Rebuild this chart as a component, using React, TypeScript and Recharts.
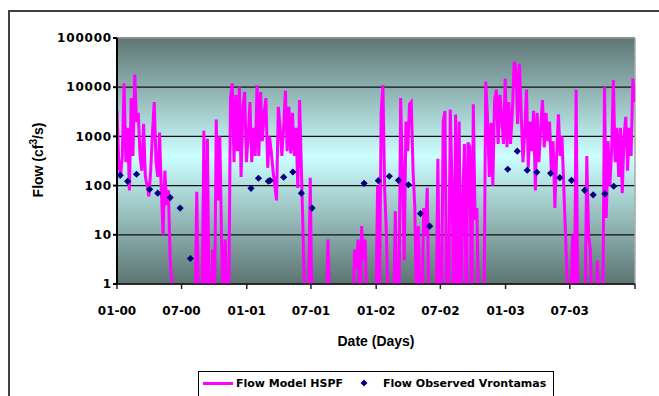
import {
  ComposedChart,
  Line,
  Scatter,
  XAxis,
  YAxis,
  CartesianGrid,
  ReferenceLine,
} from "recharts";

// modelled daily flow, sampled every 5 days from START (cf3/s); 0.2 = below the axis (clipped)
const START = "2000-01-01";
const STEP_DAYS = 5;
const modelFlow = [
  3500, 300, 150, 400, 12000, 300, 1500, 80, 6000, 400,
  18000, 2000, 3000, 400, 200, 1800, 150, 100, 60, 200,
  1200, 5000, 300, 150, 1200, 80, 10, 200, 40, 80,
  3, 1, 0.2, 0.2, 0.2, 0.2, 0.2, 0.2, 0.2, 0.2,
  0.2, 0.2, 0.2, 0.2, 0.2, 75, 0.2, 0.2, 0.2, 1300,
  0.2, 900, 0.2, 0.2, 5, 0.2, 2200, 50, 1000, 8,
  0.2, 8, 0.2, 0.2, 6000, 12000, 300, 7000, 500, 10000,
  150, 4000, 8000, 300, 1000, 5000, 300, 1500, 400, 11000,
  400, 8000, 800, 3000, 6000, 230, 1000, 500, 200, 100,
  50, 4000, 1500, 400, 1500, 8500, 500, 4000, 450, 3000,
  400, 1500, 90, 5500, 230, 10, 0.2, 0.2, 0.2, 145,
  0.2, 0.2, 0.2, 0.2, 0.2, 0.2, 0.2, 0.2, 0.2, 8,
  0.2, 0.2, 0.2, 0.2, 0.2, 0.2, 0.2, 0.2, 0.2, 0.2,
  0.2, 0.2, 0.2, 0.2, 5, 2, 8, 0.2, 15, 3,
  8, 0.2, 0.2, 0.2, 0.2, 0.2, 0.2, 100, 0.2, 3000,
  11000, 80, 10, 0.2, 0.2, 0.2, 0.2, 30, 0.2, 0.2,
  6000, 200, 3, 2000, 500, 4500, 5000, 200, 35, 0.2,
  15, 0.2, 0.2, 35, 10, 90, 0.2, 0.2, 0.2, 0.2,
  0.2, 350, 0.2, 0.2, 2000, 3300, 0.2, 0.2, 3500, 100,
  0.2, 2800, 0.2, 2000, 0.2, 50, 700, 0.2, 750, 600,
  0.2, 4500, 20, 35, 0.2, 0.2, 0.2, 0.2, 13000, 2500,
  150, 1900, 100, 5500, 9000, 700, 7000, 2500, 700, 15000,
  600, 5000, 700, 3000, 33000, 25000, 1800, 30000, 3000, 300,
  1200, 9000, 230, 2000, 500, 3300, 80, 3000, 300, 1500,
  5500, 600, 3000, 800, 2000, 200, 800, 35, 400, 2800,
  400, 1000, 100, 10, 1, 0.2, 0.2, 10, 0.2, 9000,
  0.2, 0.2, 0.2, 0.2, 0.2, 400, 10, 5, 0.2, 0.2,
  0.2, 3, 0.2, 0.2, 0.2, 10000, 22, 800, 100, 500,
  14000, 300, 1500, 150, 1500, 70, 1000, 2500, 200, 1500,
  400, 15000, 5000,
];

// observed flow at Vrontamas
const obsDates = [
  "2000-01-10", "2000-01-31", "2000-02-25", "2000-04-02", "2000-04-25",
  "2000-05-30", "2000-06-27", "2000-07-26", "2001-01-13", "2001-02-03",
  "2001-03-03", "2001-03-08", "2001-04-15", "2001-05-11", "2001-06-04",
  "2001-07-04", "2001-11-28", "2002-01-07", "2002-02-07", "2002-03-05",
  "2002-04-02", "2002-05-06", "2002-06-01", "2003-01-07", "2003-02-03",
  "2003-03-03", "2003-03-30", "2003-05-08", "2003-06-03", "2003-07-06",
  "2003-08-12", "2003-09-05", "2003-10-08", "2003-11-02",
];
const obsFlow = [
  162, 122, 170, 84, 70,
  57, 35, 3.3, 88, 141,
  123, 127, 148, 189, 70,
  35, 111, 126, 155, 128,
  104, 27, 15, 215, 500,
  205, 187, 178, 145, 128,
  80, 65, 68, 97,
];

const tickDates = [
  "2000-01-01", "2000-07-01", "2001-01-01", "2001-07-01", "2002-01-01",
  "2002-07-01", "2003-01-01", "2003-07-01", "2004-01-01",
];
const tickLabels = ["01-00", "07-00", "01-01", "07-01", "01-02", "07-02", "01-03", "07-03", ""];
const yTicks = [1, 10, 100, 1000, 10000, 100000];

const dayOf = (d: string) => (Date.parse(d) - Date.parse(START)) / 86400000;

const modelData = modelFlow.map((v, i) => ({ day: i * STEP_DAYS, flow: v }));
const obsData = obsDates.map((d, i) => ({ day: dayOf(d), obs: obsFlow[i] }));
const xTicks = tickDates.map(dayOf);
const xMax = xTicks[xTicks.length - 1];

const Diamond = (props: any) => {
  const { cx, cy } = props;
  const r = 3.6;
  return (
    <polygon
      points={`${cx},${cy - r} ${cx + r},${cy} ${cx},${cy + r} ${cx - r},${cy}`}
      fill="#000080"
    />
  );
};

const tickStyle = {
  fill: "#000",
  fontSize: 12,
  fontWeight: "bold" as const,
  fontFamily: "DejaVu Sans, Verdana, sans-serif",
};

export default function App() {
  return (
    <div
      style={{
        position: "fixed",
        left: 0,
        top: 0,
        width: 659,
        height: 396,
        overflow: "hidden",
        background: "#fff",
      }}
    >
      <div
        style={{
          position: "absolute",
          left: 8,
          top: 10,
          width: 700,
          height: 450,
          border: "2px solid #404040",
        }}
      />
      <div style={{ position: "absolute", left: 0, top: 0 }}>
        <ComposedChart
          width={659}
          height={396}
          margin={{ top: 38, right: 24, bottom: 82, left: 0 }}
        >
          <defs>
            <linearGradient id="plotBg" x1="0" y1="0" x2="0" y2="1">
              <stop offset="0%" stopColor="#5e7674" />
              <stop offset="48%" stopColor="#ccffff" />
              <stop offset="100%" stopColor="#5c7472" />
            </linearGradient>
          </defs>
          <CartesianGrid
            vertical={false}
            fill="url(#plotBg)"
            stroke="#111"
            strokeWidth={1.3}
          />
          <XAxis
            dataKey="day"
            type="number"
            domain={[0, xMax]}
            ticks={xTicks}
            tickFormatter={(v: number) => tickLabels[xTicks.indexOf(v)] ?? ""}
            height={30}
            tickSize={5}
            tickMargin={17}
            stroke="#222"
            strokeWidth={1.5}
            tick={tickStyle}
            allowDataOverflow
          />
          <YAxis
            type="number"
            scale="log"
            domain={[1, 100000]}
            ticks={yTicks}
            allowDataOverflow
            width={117}
            tickSize={4}
            tickMargin={1}
            stroke="#000"
            strokeWidth={2}
            tick={{ ...tickStyle, letterSpacing: 0.8 }}
          />
          <ReferenceLine y={100000} stroke="#a8a8a8" strokeWidth={1.5} />
          <ReferenceLine x={xMax} stroke="#a8a8a8" strokeWidth={1.5} />
          <Line
            data={modelData}
            dataKey="flow"
            type="linear"
            stroke="#ff00ff"
            strokeWidth={3}
            dot={false}
            activeDot={false}
            isAnimationActive={false}
          />
          <Scatter
            data={obsData}
            dataKey="obs"
            shape={Diamond}
            fill="#000080"
            isAnimationActive={false}
          />
        </ComposedChart>
      </div>

      {/* axis titles */}
      <div
        style={{
          position: "absolute",
          left: 37,
          top: 160,
          transform: "translate(-50%, -50%) rotate(-90deg)",
          whiteSpace: "nowrap",
          fontFamily: "Liberation Sans, Arial, sans-serif",
          fontWeight: "bold",
          fontSize: 14,
        }}
      >
        Flow (cf<sup style={{ fontSize: 10 }}>3</sup>/s)
      </div>
      <div
        style={{
          position: "absolute",
          left: 376,
          top: 333,
          transform: "translateX(-50%)",
          whiteSpace: "nowrap",
          fontFamily: "Liberation Sans, Arial, sans-serif",
          fontWeight: "bold",
          fontSize: 14,
          lineHeight: "16px",
        }}
      >
        Date (Days)
      </div>

      {/* legend */}
      <div
        style={{
          position: "absolute",
          left: 198,
          top: 371,
          width: 354,
          height: 40,
          border: "1px solid #000",
          background: "#fff",
          fontFamily: "DejaVu Sans, Verdana, sans-serif",
          fontWeight: "bold",
          fontSize: 11,
        }}
      >
        <div
          style={{
            position: "absolute",
            left: 4,
            top: 10,
            width: 30,
            height: 3,
            background: "#ff00ff",
          }}
        />
        <div style={{ position: "absolute", left: 37, top: 4, lineHeight: "15px", whiteSpace: "nowrap" }}>
          Flow Model HSPF
        </div>
        <svg style={{ position: "absolute", left: 160, top: 6 }} width={10} height={10}>
          <polygon points="5,1.5 8.5,5 5,8.5 1.5,5" fill="#000080" />
        </svg>
        <div style={{ position: "absolute", left: 184, top: 4, lineHeight: "15px", whiteSpace: "nowrap" }}>
          Flow Observed Vrontamas
        </div>
      </div>
    </div>
  );
}
